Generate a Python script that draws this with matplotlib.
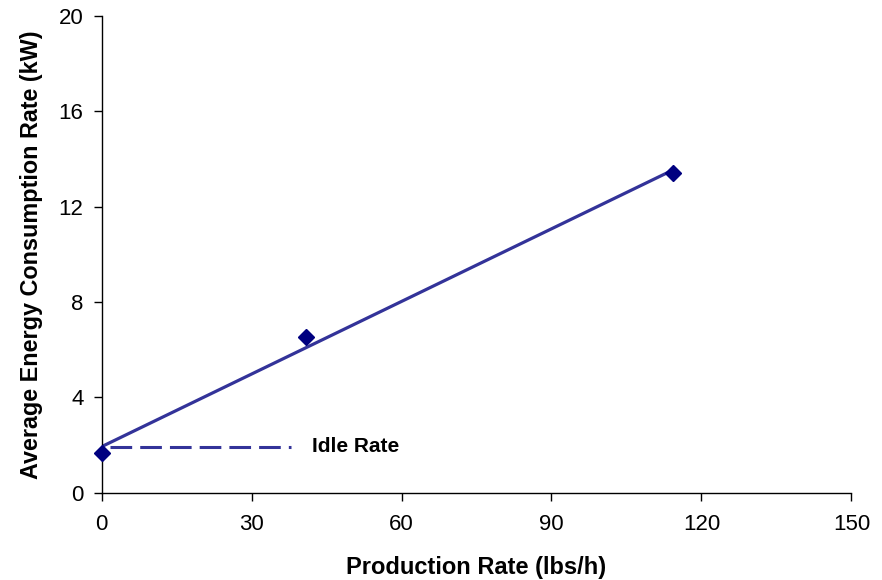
import matplotlib
matplotlib.use("Agg")
import matplotlib.pyplot as plt

plt.rcParams['font.family'] = ['Liberation Sans', 'DejaVu Sans']
plt.rcParams['lines.scale_dashes'] = False

# Data
production_rate = [0.0, 40.9, 114.4]
energy_rate = [1.68, 6.52, 13.40]
trend_x = [0.0, 114.4]
trend_y = [1.93, 13.55]
idle_x = [1.7, 37.8]
idle_y = [1.92, 1.92]
x_ticks = [0, 30, 60, 90, 120, 150]
y_ticks = [0, 4, 8, 12, 16, 20]

fig = plt.figure(figsize=(8.82, 5.8), dpi=100)
ax = fig.add_axes([0.1151, 0.1505, 0.8503, 0.8219])

ax.plot(trend_x, trend_y, color='#333399', lw=2.3, solid_capstyle='butt', zorder=2)
ax.plot(idle_x, idle_y, color='#333399', lw=2.2, dashes=(15.6, 5.8), zorder=2)
ax.plot(production_rate, energy_rate, linestyle='none', marker='D', ms=8.5,
        color='#000080', zorder=3, clip_on=False)
ax.text(42.0, 1.92, 'Idle Rate', fontsize=15, fontweight='bold', va='center', ha='left')

ax.set_xlim(0, 150)
ax.set_ylim(0, 20)
ax.set_xticks(x_ticks)
ax.set_yticks(y_ticks)
for s in ['top', 'right']:
    ax.spines[s].set_visible(False)
for s in ['left', 'bottom']:
    ax.spines[s].set_linewidth(1.0)
ax.tick_params(direction='out', length=6, width=1.0, labelsize=16)
ax.tick_params(axis='x', pad=9)
ax.tick_params(axis='y', pad=7)
ax.set_xlabel('Production Rate (lbs/h)', fontsize=17, fontweight='bold')
ax.set_ylabel('Average Energy Consumption Rate (kW)', fontsize=16.8, fontweight='bold')
ax.xaxis.set_label_coords(0.5, -0.132)
ax.yaxis.set_label_coords(-0.078, 0.5)

fig.savefig('out.png', dpi=100)
